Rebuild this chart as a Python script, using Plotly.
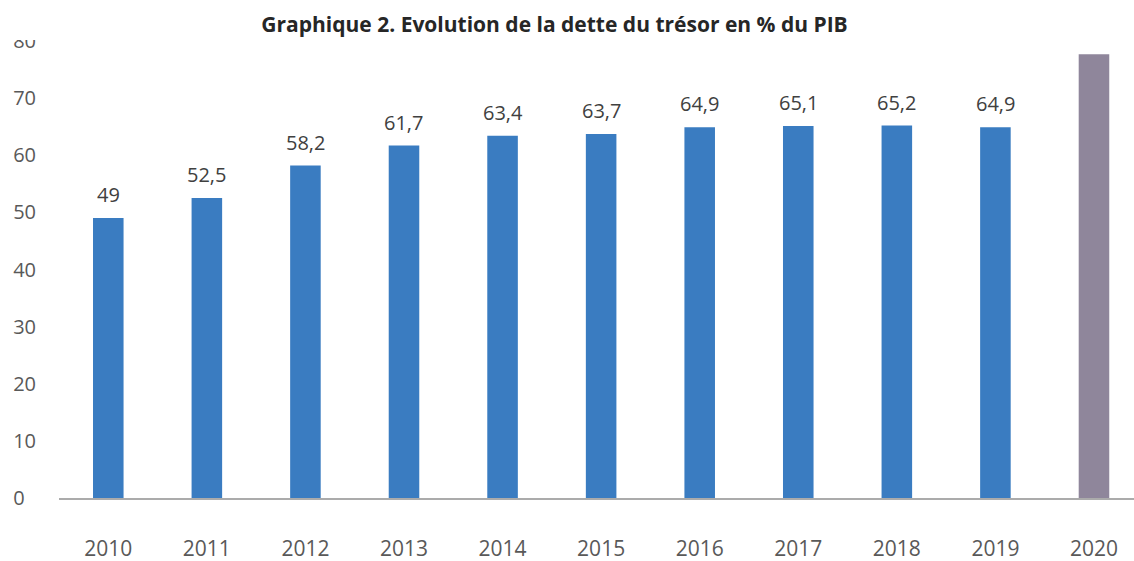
import plotly.graph_objects as go

years = ["2010", "2011", "2012", "2013", "2014", "2015", "2016", "2017", "2018", "2019", "2020"]
debt = [49, 52.5, 58.2, 61.7, 63.4, 63.7, 64.9, 65.1, 65.2, 64.9, 77.7]
labels = ["49", "52,5", "58,2", "61,7", "63,4", "63,7", "64,9", "65,1", "65,2", "64,9", ""]
bar_colors = ["#3A7CC1"] * 10 + ["#8F869B"]
y_ticks = [0, 10, 20, 30, 40, 50, 60, 70, 80]
y_tick_text = ["0\u2007", "10", "20", "30", "40", "50", "60", "70", "80"]

W, H = 1134, 561
ML, MR, MT, MB = 59, 0, 41, 63

fig = go.Figure()
fig.add_trace(go.Bar(
    x=list(range(len(years))), y=debt, marker=dict(color=bar_colors, line=dict(width=0)),
    width=0.31, hoverinfo="skip", showlegend=False, cliponaxis=False,
))

for i, (v, t) in enumerate(zip(debt, labels)):
    if t:
        fig.add_annotation(x=i, y=v, text=t, showarrow=False, yanchor="bottom",
                           yshift=8, font=dict(family="Open Sans", size=20, color="#404040"))

fig.add_shape(type="rect", xref="paper", yref="paper", x0=-0.2, x1=1.1,
              y0=1 + 1.0 / (H - MT - MB), y1=1.2, fillcolor="white", line=dict(width=0),
              layer="above")

fig.update_layout(
    width=W, height=H, margin=dict(l=ML, r=MR, t=MT, b=MB, autoexpand=False),
    paper_bgcolor="white", plot_bgcolor="white",
    title=dict(text="<b>Graphique 2. Evolution de la dette du trésor en % du PIB</b>",
               x=0.489, xref="container", xanchor="center", y=1 - 25 / H, yref="container",
               yanchor="middle", font=dict(family="Open Sans", size=21, color="#262626")),
    xaxis=dict(range=[-0.5, 10.406], tickmode="array",
               tickvals=list(range(len(years))), ticktext=years, showgrid=False,
               showline=True, linecolor="#ABABAB", linewidth=1.5, ticks="",
               ticklabelstandoff=31, tickfont=dict(family="Open Sans", size=21, color="#595959"),
               zeroline=False, automargin=False),
    yaxis=dict(range=[0, 80], tickmode="array", tickvals=y_ticks, ticktext=y_tick_text,
               showgrid=False, showline=False, zeroline=False, ticks="",
               ticklabelstandoff=22, automargin=False,
               tickfont=dict(family="Open Sans", size=20, color="#595959")),
)

fig.write_html("out.html", config={"displayModeBar": False},
               post_script="document.body.style.margin='0';")
